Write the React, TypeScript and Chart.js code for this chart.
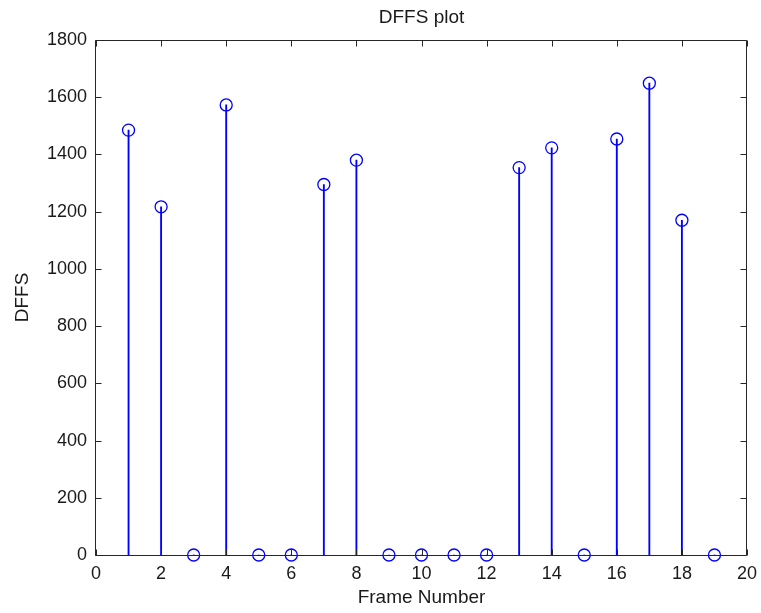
import React, { useEffect, useRef } from 'react';
import { Chart, registerables } from 'chart.js';

Chart.register(...registerables);

const frames = [1, 2, 3, 4, 5, 6, 7, 8, 9, 10, 11, 12, 13, 14, 15, 16, 17, 18, 19];
const dffs = [1485, 1217, 0, 1573, 0, 0, 1295, 1380, 0, 0, 0, 0, 1354, 1423, 0, 1454, 1649, 1170, 0];
const xTickValues = [0, 2, 4, 6, 8, 10, 12, 14, 16, 18, 20];
const yTickValues = [0, 200, 400, 600, 800, 1000, 1200, 1400, 1600, 1800];
const titleText = 'DFFS plot';
const xTitle = 'Frame Number';
const yTitle = 'DFFS';

const FONT = '"Liberation Sans", Arial, Helvetica, sans-serif';
const AXIS = '#262626';
const TEXT = '#1a1a1a';
const BLUE = '#0000ff';

const frameTicksPlugin = {
  id: 'frameTicks',
  afterDatasetsDraw(chart: any) {
    const { ctx, chartArea, scales } = chart;
    const { left, right, top, bottom } = chartArea;
    const L = Math.round(left) - 0.5;
    const R = Math.round(right) - 0.5;
    const T = Math.round(top) + 0.5;
    const B = Math.round(bottom) + 0.5;
    ctx.save();
    ctx.strokeStyle = AXIS;
    ctx.lineWidth = 1;
    ctx.beginPath();
    ctx.rect(L, T, R - L, B - T);
    const tl = 6;
    xTickValues.forEach((v) => {
      const px = Math.round(scales.x.getPixelForValue(v)) + 0.5;
      ctx.moveTo(px, B);
      ctx.lineTo(px, B - tl);
      ctx.moveTo(px, T);
      ctx.lineTo(px, T + tl);
    });
    yTickValues.forEach((v) => {
      const py = Math.round(scales.y.getPixelForValue(v)) + 0.5;
      ctx.moveTo(L, py);
      ctx.lineTo(L + tl, py);
      ctx.moveTo(R, py);
      ctx.lineTo(R - tl, py);
    });
    ctx.stroke();
    ctx.fillStyle = TEXT;
    ctx.font = `19px ${FONT}`;
    ctx.textAlign = 'center';
    ctx.textBaseline = 'middle';
    ctx.fillText(titleText, (left + right) / 2, 18);
    ctx.restore();
  },
};

export default function App() {
  const canvasRef = useRef<HTMLCanvasElement | null>(null);

  useEffect(() => {
    document.body.style.margin = '0';
    const canvas = canvasRef.current;
    if (!canvas) return;
    const points = frames.map((f, i) => ({ x: f, y: dffs[i] }));
    const tickFont = { family: FONT, size: 18 };
    const titleFont = { family: FONT, size: 19 };
    const chart = new Chart(canvas, {
      type: 'scatter',
      data: {
        datasets: [
          {
            type: 'bar',
            data: points,
            backgroundColor: BLUE,
            borderWidth: 0,
            barThickness: 1.2,
            order: 2,
          } as any,
          {
            type: 'scatter',
            data: points,
            pointRadius: 6,
            pointHoverRadius: 6,
            pointBorderWidth: 1.3,
            pointBorderColor: BLUE,
            pointBackgroundColor: 'rgba(0,0,0,0)',
            showLine: false,
            clip: false,
            order: 1,
          } as any,
        ],
      },
      options: {
        responsive: false,
        animation: false,
        events: [],
        layout: { padding: { top: 40, right: 14, left: 0, bottom: 0 } },
        plugins: {
          legend: { display: false },
          tooltip: { enabled: false },
          title: { display: false },
        },
        scales: {
          x: {
            type: 'linear',
            min: 0,
            max: 20,
            offset: false,
            grid: { display: false, drawTicks: false, offset: false },
            border: { display: false },
            afterBuildTicks: (s: any) => {
              s.ticks = xTickValues.map((v) => ({ value: v }));
            },
            ticks: {
              padding: 8,
              font: tickFont,
              color: TEXT,
              maxRotation: 0,
              autoSkip: false,
              callback: (v: any) => String(v),
            },
            title: {
              display: true,
              text: xTitle,
              font: titleFont,
              color: TEXT,
              padding: { top: 0, bottom: 3.6 },
            },
            afterFit: (s: any) => {
              s.height = 58;
              s.paddingLeft = 0;
              s.paddingRight = 0;
            },
          },
          y: {
            type: 'linear',
            min: 0,
            max: 1800,
            grid: { display: false, drawTicks: false },
            border: { display: false },
            afterBuildTicks: (s: any) => {
              s.ticks = yTickValues.map((v) => ({ value: v }));
            },
            ticks: {
              padding: 9,
              font: tickFont,
              color: TEXT,
              autoSkip: false,
              callback: (v: any) => String(v),
            },
            title: {
              display: true,
              text: yTitle,
              font: titleFont,
              color: TEXT,
              padding: { top: 11.6, bottom: 0 },
            },
            afterFit: (s: any) => {
              s.width = 96;
              s.paddingTop = 0;
              s.paddingBottom = 0;
            },
          },
        },
      } as any,
      plugins: [frameTicksPlugin],
    });
    return () => chart.destroy();
  }, []);

  return (
    <div style={{ width: 761, height: 613, background: '#fff' }}>
      <canvas ref={canvasRef} width={761} height={613} style={{ display: 'block', width: 761, height: 613 }} />
    </div>
  );
}
